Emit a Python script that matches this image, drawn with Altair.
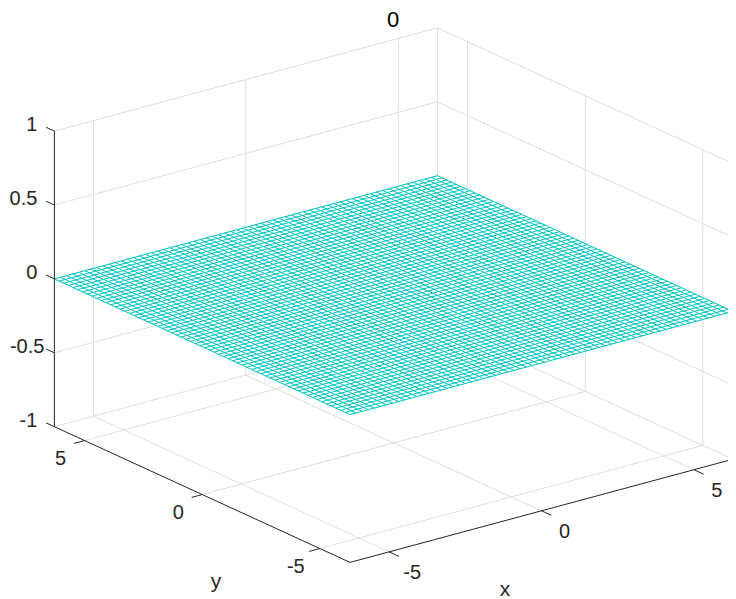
import numpy as np
import pandas as pd
import altair as alt

# ---- data values ----
mesh_x = np.linspace(-2 * np.pi, 2 * np.pi, 64).tolist()
mesh_y = np.linspace(-2 * np.pi, 2 * np.pi, 64).tolist()
mesh_z = 0.0
x_ticks = [-5, 0, 5]
y_ticks = [-5, 0, 5]
z_ticks = [-1, -0.5, 0, 0.5, 1]
z_labels = ["-1", "-0.5", "0", "0.5", "1"]
x_lim = [-2 * np.pi, 2 * np.pi]
y_lim = [-2 * np.pi, 2 * np.pi]
z_lim = [-1, 1]
title_text = "0"

# ---- view: orthographic projection of (x, y, z) to the plane used by the scales ----
SPAN = 4 * np.pi
FRONT = (350.0, 562.4)
DX = (383.0 / SPAN, -103.2 / SPAN)
DY = (-295.6 / SPAN, -135.7 / SPAN)
DZ = (0.0, -147.8)
OFF = 8.0


def project(x, y, z):
    u = x - x_lim[0]
    v = y - y_lim[0]
    w = z - z_lim[0]
    return (
        FRONT[0] + DX[0] * u + DY[0] * v - OFF,
        FRONT[1] + DX[1] * u + DY[1] * v + DZ[1] * w - OFF,
    )


def segments(items):
    rows = []
    for i, (a, b) in enumerate(items):
        for pt, o in ((a, 0), (b, 1)):
            px, py = project(*pt)
            rows.append({"sx": px, "sy": py, "seg": i, "o": o})
    return pd.DataFrame(rows)


W, H = 720, 591
xs = alt.Scale(domain=[0, W], range=[0, W])
ys = alt.Scale(domain=[0, H], range=[0, H])
X = alt.X("sx:Q", scale=xs, axis=None)
Y = alt.Y("sy:Q", scale=ys, axis=None)


def lines(items, color, width):
    return alt.Chart(segments(items)).mark_line(color=color, strokeWidth=width, clip=False).encode(
        x=X, y=Y, detail="seg:N", order="o:Q"
    )


x0, x1 = x_lim
y0, y1 = y_lim
z0, z1 = z_lim

grid = []
for t in x_ticks:
    grid.append(((t, y1, z0), (t, y1, z1)))
    grid.append(((t, y0, z0), (t, y1, z0)))
for t in y_ticks:
    grid.append(((x1, t, z0), (x1, t, z1)))
    grid.append(((x0, t, z0), (x1, t, z0)))
for t in z_ticks:
    grid.append(((x0, y1, t), (x1, y1, t)))
    grid.append(((x1, y0, t), (x1, y1, t)))
grid.append(((x1, y1, z0), (x1, y1, z1)))
grid_layer = lines(grid, "#dedede", 1)

# white faces of the surface hide whatever lies behind it
cx = [project(a, b, mesh_z) for a, b in [(x0, y1), (x0, y0), (x1, y1), (x1, y0)]]
left, front, back, right = cx
fx = sorted(p[0] for p in cx)
upper = np.interp(fx, [left[0], back[0], right[0]], [left[1], back[1], right[1]])
lower = np.interp(fx, [left[0], front[0], right[0]], [left[1], front[1], right[1]])
face = alt.Chart(pd.DataFrame({"sx": fx, "sy": upper, "sy2": lower})).mark_area(
    color="white", opacity=1
).encode(x=X, y=Y, y2="sy2:Q")

wire = []
for a in mesh_x:
    wire.append(((a, mesh_y[0], mesh_z), (a, mesh_y[-1], mesh_z)))
for b in mesh_y:
    wire.append(((mesh_x[0], b, mesh_z), (mesh_x[-1], b, mesh_z)))
mesh_layer = lines(wire, "#00c4c0", 1)

axes = [
    ((x0, y0, z0), (x1, y0, z0)),
    ((x0, y0, z0), (x0, y1, z0)),
    ((x0, y1, z0), (x0, y1, z1)),
]
axes_layer = lines(axes, "#262626", 1)

ticks = []
for t in x_ticks:
    ticks.append(((t, y0, z0), (t, y0 - 0.42, z0)))
for t in y_ticks:
    ticks.append(((x0, t, z0), (x0 - 0.35, t, z0)))
for t in z_ticks:
    ticks.append(((x0, y1, t), (x0, y1 + 0.35, t)))
tick_layer = lines(ticks, "#262626", 1)


def labels(rows, size=20, color="#262626", align="center"):
    df = pd.DataFrame(rows, columns=["sx", "sy", "t"])
    df["sx"] -= OFF
    df["sy"] -= OFF
    return alt.Chart(df).mark_text(
        font="Liberation Sans", fontSize=size, color=color, align=align, baseline="middle"
    ).encode(x=X, y=Y, text="t:N")


def lab(x, y, z, dx, dy, t):
    px, py = project(x, y, z)
    return (px + OFF + dx, py + OFF + dy, t)


# the "-0.5" label is nudged right so that its minus sign stays inside the page area
z_text = labels(
    [lab(x0, y1, v, -10 if s == "-0.5" else -17, -6, s) for v, s in zip(z_ticks, z_labels)],
    align="right",
)
x_text = labels([lab(t, y0, z0, 23, 21.5, str(t)) for t in x_ticks])
y_text = labels([lab(x0, t, z0, -24, 18, str(t)) for t in y_ticks])
names = labels([(505, 590, "x"), (216, 582, "y")], size=21)
title = labels([(393, 20, title_text)], size=22, color="#000000")

chart = alt.layer(
    grid_layer, face, mesh_layer, axes_layer, tick_layer, z_text, x_text, y_text, names, title
).properties(
    width=W, height=H, padding=0, autosize=alt.AutoSizeParams(type="none")
).configure_view(stroke=None)

chart.save("out.html", embed_options={"renderer": "svg", "actions": False})
